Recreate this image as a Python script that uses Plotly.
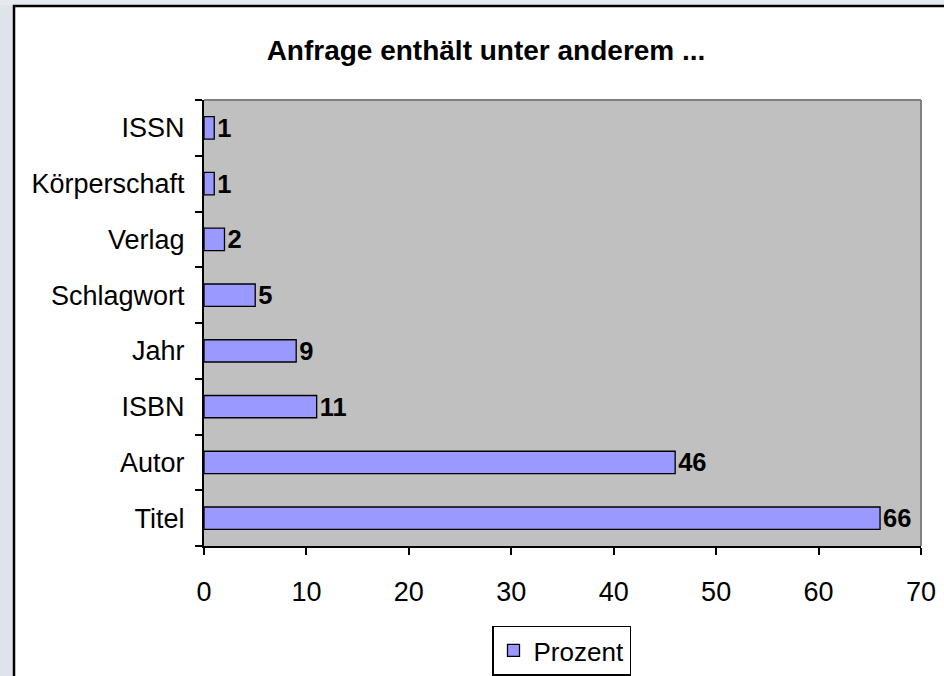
import plotly.graph_objects as go

categories = ["Titel", "Autor", "ISBN", "Jahr", "Schlagwort", "Verlag", "Körperschaft", "ISSN"]
values = [66, 46, 11, 9, 5, 2, 1, 1]
series_name = "Prozent"
title_text = "<b>Anfrage enthält unter anderem ...</b>"
x_ticks = [0, 10, 20, 30, 40, 50, 60, 70]

W, H = 944, 676
L, R, T, B = 204, 23, 100, 130
pw, ph = W - L - R, H - T - B

def px_x(p):
    return (p - L) / pw

def px_y(p):
    return (H - B - p) / ph

fig = go.Figure()
fig.add_trace(go.Bar(
    y=categories, x=values, orientation="h", name=series_name,
    marker=dict(color="#9999FF", line=dict(color="black", width=1.3)),
    text=[str(v) for v in values], textposition="outside", constraintext="none",
    textfont=dict(family="Arial, Liberation Sans", size=25.5, color="black", weight="bold"),
    cliponaxis=False, showlegend=True,
))

shapes = [
    dict(type="rect", xref="paper", yref="paper", x0=px_x(0), x1=px_x(13), y0=px_y(H + 5), y1=px_y(0),
         fillcolor="#dfe3ea", line=dict(width=0), layer="below"),
    dict(type="rect", xref="paper", yref="paper", x0=px_x(0), x1=px_x(W + 5), y0=px_y(5), y1=px_y(0),
         fillcolor="#e6e9ee", line=dict(width=0), layer="below"),
    dict(type="line", xref="paper", yref="paper", x0=px_x(14), x1=px_x(14), y0=px_y(H + 5), y1=px_y(5),
         line=dict(color="black", width=2.5)),
    dict(type="line", xref="paper", yref="paper", x0=px_x(13), x1=px_x(W + 5), y0=px_y(6), y1=px_y(6),
         line=dict(color="black", width=2.5)),
    dict(type="line", xref="paper", yref="paper", x0=0, x1=1, y0=1, y1=1,
         line=dict(color="#808080", width=2)),
    dict(type="line", xref="paper", yref="paper", x0=1, x1=1, y0=0, y1=1,
         line=dict(color="#808080", width=2)),
]

fig.update_layout(
    width=W, height=H, autosize=False,
    margin=dict(l=L, r=R, t=T, b=B, pad=0, autoexpand=False),
    paper_bgcolor="white", plot_bgcolor="#C0C0C0",
    font=dict(family="Arial, Liberation Sans", size=27, color="black"),
    title=dict(text=title_text, x=486 / W, xref="container", xanchor="center",
               y=1 - 50 / H, yref="container", yanchor="middle",
               font=dict(size=28, color="black")),
    bargap=0.6,
    shapes=shapes,
    showlegend=True,
    legend=dict(x=561.5 / W, xref="container", y=1 - 650.5 / H, yref="container",
                xanchor="center", yanchor="middle",
                orientation="h", bgcolor="white", bordercolor="black", borderwidth=1.5,
                font=dict(size=26)),
)
fig.update_xaxes(range=[0, 70], tickvals=x_ticks, ticktext=[str(t) for t in x_ticks],
                 showgrid=False, zeroline=False, showline=True, linecolor="black", linewidth=2,
                 ticks="outside", ticklen=7, tickwidth=1.5, tickcolor="black",
                 ticklabelstandoff=14, fixedrange=True, automargin=False)
fig.update_yaxes(categoryorder="array", categoryarray=categories,
                 showgrid=False, zeroline=False, showline=True, linecolor="black", linewidth=2,
                 ticks="outside", ticklen=7, tickwidth=1.5, tickcolor="black",
                 tickson="boundaries", ticklabelstandoff=12, fixedrange=True, automargin=False)

fig.write_html("out.html", config={"displayModeBar": False},
               post_script="document.body.style.margin='0';document.body.style.overflow='hidden';")
